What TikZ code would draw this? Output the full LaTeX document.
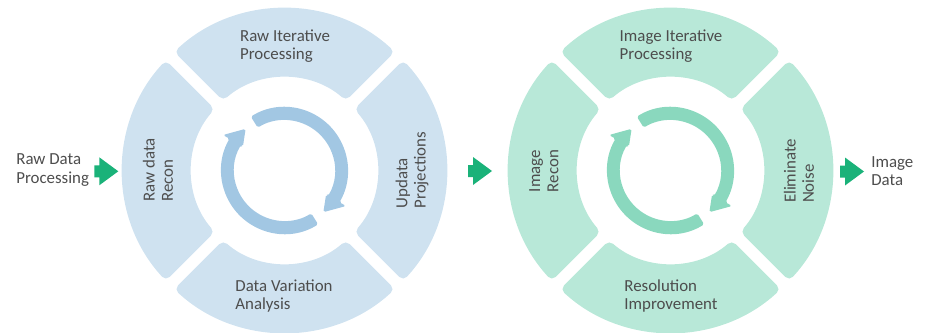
\documentclass[tikz,border=0pt]{standalone}
\usepackage{fontspec}
\setmainfont{Carlito}
\usepackage{xcolor}
\definecolor{RawSeg}{RGB}{207,226,240}
\definecolor{RawCycle}{RGB}{162,199,227}
\definecolor{ImgSeg}{RGB}{184,232,216}
\definecolor{ImgCycle}{RGB}{138,216,190}
\definecolor{StepGreen}{RGB}{26,178,121}
\definecolor{LabelGray}{RGB}{77,77,77}

\begin{document}
\begin{tikzpicture}[x=0.02cm, y=0.02cm,
      every node/.append style={font=\fontsize{9.6}{10.4}\selectfont, text=LabelGray, inner sep=0pt},
      steparrow/.pic={\fill[StepGreen] (-24,6) -- (-19,6) -- (-19,14) -- (0,0) -- (-19,-14) -- (-19,-6) -- (-24,-6) -- cycle;}]
    \tikzstyle{word} = [align=left]
    \tikzstyle{sideword} = [align=left, rotate=90]
    \useasboundingbox (0,0) rectangle (930,332);

    % raw data ring
    \begin{scope}[shift={(284.5,161.5)}]
      \foreach \a in {0,90,180,270}
        \fill[RawSeg, rounded corners=3pt] (\a+47.12:162) arc[start angle=\a+47.12, end angle=\a+132.88, radius=162]
          -- (\a+131.3:93) arc[start angle=\a+131.3, end angle=\a+48.7, radius=93] -- cycle;
      \foreach \a in {0,180}
        \fill[RawCycle, rounded corners=1pt] (\a+122:63.5) arc[start angle=\a+122, end angle=\a-30, radius=63.5]
          -- (\a-30:71) -- (\a-47:57) -- (\a-30:48) -- (\a-30:50.5) arc[start angle=\a-30, end angle=\a+122, radius=50.5] -- cycle;
    \end{scope}

    % image ring
    \begin{scope}[shift={(670.5,161.5)}]
      \foreach \a in {0,90,180,270}
        \fill[ImgSeg, rounded corners=3pt] (\a+47.12:162) arc[start angle=\a+47.12, end angle=\a+132.88, radius=162]
          -- (\a+131.3:93) arc[start angle=\a+131.3, end angle=\a+48.7, radius=93] -- cycle;
      \foreach \a in {0,180}
        \fill[ImgCycle, rounded corners=1pt] (\a+122:63.5) arc[start angle=\a+122, end angle=\a-30, radius=63.5]
          -- (\a-30:71) -- (\a-47:57) -- (\a-30:48) -- (\a-30:50.5) arc[start angle=\a-30, end angle=\a+122, radius=50.5] -- cycle;
    \end{scope}

    \node [word, anchor=west] (rawin) at (16,162) {Raw Data\\Processing};
    \node [word] (rawiter) at (285,286) {Raw Iterative\\Processing};
    \node [word] (rawvar) at (284,36) {Data Variation\\Analysis};
    \node [sideword] (rawrecon) at (158,162) {Raw data\\Recon};
    \node [sideword] (rawproj) at (412,162) {Updata\\Projections};

    \node [word] (imgiter) at (671,286) {Image Iterative\\Processing};
    \node [word] (imgres) at (671,36) {Resolution\\Improvement};
    \node [sideword] (imgrecon) at (544,161) {Image\\Recon};
    \node [sideword] (imgnoise) at (799,161) {Eliminate\\Noise};
    \node [word, anchor=west] (imgout) at (871,161) {Image\\Data};

    \pic at (118.3,160.7) {steparrow};
    \pic at (492,161) {steparrow};
    \pic at (864,160.5) {steparrow};
\end{tikzpicture}
\end{document}
